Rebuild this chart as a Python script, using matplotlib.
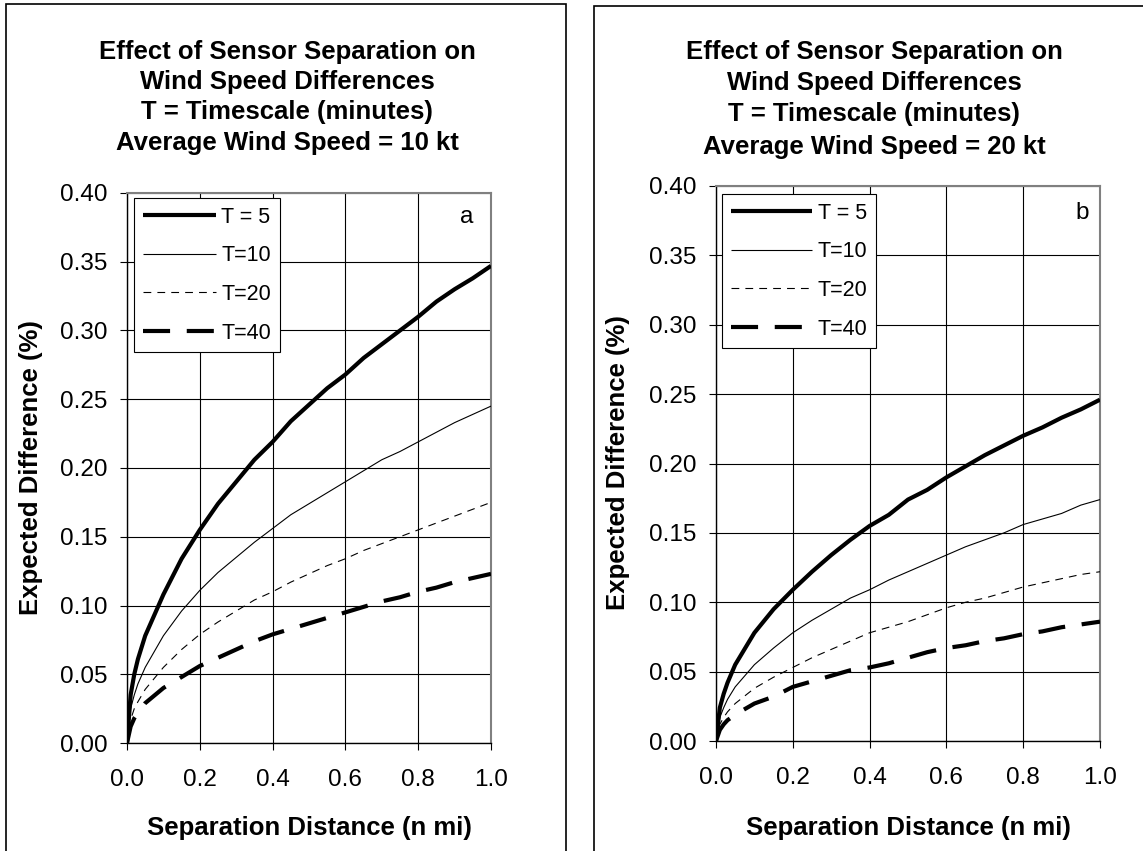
import matplotlib
matplotlib.use("Agg")
import matplotlib.pyplot as plt
from matplotlib.patches import Rectangle

plt.rcParams['font.family'] = ['Liberation Sans', 'DejaVu Sans']

W, H = 1143, 851

# separation distance (n mi)
dist = [0, 0.01, 0.02, 0.03, 0.05, 0.1, 0.15, 0.2, 0.25, 0.3, 0.35, 0.4,
        0.45, 0.5, 0.55, 0.6, 0.65, 0.7, 0.75, 0.8, 0.85, 0.9, 0.95, 1.0]

labels = ["T = 5", "T=10", "T=20", "T=40"]

# panel a: 10 kt
a_t5 = [0, 0.035, 0.05, 0.061, 0.078, 0.108, 0.134, 0.155, 0.174, 0.19, 0.206, 0.219,
        0.234, 0.246, 0.258, 0.268, 0.28, 0.29, 0.30, 0.31, 0.321, 0.33, 0.338, 0.347]
a_t10 = [0, 0.025, 0.035, 0.043, 0.055, 0.078, 0.096, 0.111, 0.124, 0.135, 0.146, 0.156,
         0.166, 0.174, 0.182, 0.19, 0.198, 0.206, 0.212, 0.219, 0.226, 0.233, 0.239, 0.245]
a_t20 = [0, 0.017, 0.025, 0.03, 0.039, 0.055, 0.068, 0.079, 0.088, 0.096, 0.104, 0.11,
         0.117, 0.123, 0.129, 0.134, 0.14, 0.145, 0.15, 0.155, 0.16, 0.165, 0.17, 0.175]
a_t40 = [0, 0.012, 0.018, 0.022, 0.029, 0.040, 0.048, 0.056, 0.062, 0.068, 0.074, 0.079,
         0.083, 0.087, 0.091, 0.095, 0.099, 0.103, 0.106, 0.11, 0.113, 0.117, 0.12, 0.123]

# panel b: 20 kt
b_t5 = [0, 0.024, 0.034, 0.042, 0.055, 0.078, 0.095, 0.109, 0.122, 0.134, 0.145, 0.155,
        0.163, 0.174, 0.181, 0.19, 0.198, 0.206, 0.213, 0.22, 0.226, 0.233, 0.239, 0.246]
b_t10 = [0, 0.017, 0.024, 0.03, 0.039, 0.055, 0.067, 0.078, 0.087, 0.095, 0.103, 0.109,
         0.116, 0.122, 0.128, 0.134, 0.14, 0.145, 0.15, 0.156, 0.16, 0.164, 0.17, 0.174]
b_t20 = [0, 0.012, 0.017, 0.021, 0.027, 0.038, 0.046, 0.053, 0.06, 0.066, 0.072, 0.078,
         0.082, 0.086, 0.091, 0.096, 0.1, 0.103, 0.107, 0.111, 0.114, 0.117, 0.12, 0.122]
b_t40 = [0, 0.008, 0.012, 0.015, 0.019, 0.027, 0.032, 0.039, 0.043, 0.047, 0.051, 0.053,
         0.056, 0.06, 0.064, 0.067, 0.069, 0.072, 0.074, 0.077, 0.079, 0.082, 0.084, 0.086]

xticks = [0.0, 0.2, 0.4, 0.6, 0.8, 1.0]
yticks = [0.0, 0.05, 0.10, 0.15, 0.20, 0.25, 0.30, 0.35, 0.40]

title_a = ["Effect of Sensor Separation on", "Wind Speed Differences",
           "T = Timescale (minutes)", "Average Wind Speed = 10 kt"]
title_b = ["Effect of Sensor Separation on", "Wind Speed Differences",
           "T = Timescale (minutes)", "Average Wind Speed = 20 kt"]

styles = [dict(lw=3.0, ls='-'),
          dict(lw=0.8, ls='-'),
          dict(lw=0.8, ls=(0, (7, 5.5))),
          dict(lw=3.0, ls=(0, (6.5, 4)))]


def fig_ax(left, top, right, bottom):
    return fig.add_axes([left / W, 1 - bottom / H, (right - left) / W, (bottom - top) / H])


def panel(ax, series, handlelen, leg_xy):
    for ys, lab, st in zip(series, labels, styles):
        ax.plot(dist, ys, color='black', label=lab, solid_capstyle='butt',
                dash_capstyle='butt', zorder=3, **st)
    ax.set_xlim(0, 1.0)
    ax.set_ylim(0, 0.40)
    ax.set_xticks(xticks)
    ax.set_yticks(yticks)
    ax.set_xticklabels(["%.1f" % v for v in xticks])
    ax.set_yticklabels(["%.2f" % v for v in yticks])
    ax.grid(True, color='black', lw=0.8, zorder=1)
    ax.tick_params(direction='out', length=5, width=0.8, labelsize=17.5, color='black')
    ax.tick_params(axis='x', pad=14)
    ax.tick_params(axis='y', pad=9)
    for s in ['top', 'right']:
        ax.spines[s].set_color('#808080')
        ax.spines[s].set_linewidth(1.5)
    for s in ['left', 'bottom']:
        ax.spines[s].set_color('black')
        ax.spines[s].set_linewidth(1.0)
    leg = ax.legend(loc='upper left', bbox_to_anchor=(leg_xy[0] / W, 1 - leg_xy[1] / H),
                    bbox_transform=fig.transFigure, fontsize=15.5, frameon=True,
                    fancybox=False, framealpha=1, edgecolor='black',
                    handlelength=handlelen, handletextpad=0.25, labelspacing=0.82,
                    borderpad=0.4, borderaxespad=0)
    leg.get_frame().set_linewidth(0.8)
    leg.set_zorder(5)


fig = plt.figure(figsize=(W / 100, H / 100), dpi=100)

# panel frames
fig.patches.append(Rectangle((6 / W, -0.05), 560 / W, 1.05 - 4 / H, fill=False,
                             lw=1.2, edgecolor='black', transform=fig.transFigure))
fig.patches.append(Rectangle((594 / W, -0.05), 0.6, 1.05 - 6 / H, fill=False,
                             lw=1.2, edgecolor='black', transform=fig.transFigure))

ax1 = fig_ax(127, 193, 491, 743)
ax2 = fig_ax(716, 186, 1100, 741)

panel(ax1, [a_t5, a_t10, a_t20, a_t40], 3.4, (134, 198))
panel(ax2, [b_t5, b_t10, b_t20, b_t40], 3.8, (722, 194))

for txt, ys, xc in [(title_a, [52, 82, 112, 143], 287), (title_b, [52, 83, 114, 147], 874)]:
    for line, yc in zip(txt, ys):
        fig.text(xc / W, 1 - yc / H, line, ha='center', va='center',
                 fontsize=18.5, fontweight='bold')

fig.text(467 / W, 1 - 217 / H, "a", ha='center', va='center', fontsize=17.5)
fig.text(1082 / W, 1 - 213 / H, "b", ha='center', va='center', fontsize=17.5)

fig.text(309 / W, 1 - 828 / H, "Separation Distance (n mi)", ha='center', va='center',
         fontsize=18.5, fontweight='bold')
fig.text(908 / W, 1 - 828 / H, "Separation Distance (n mi)", ha='center', va='center',
         fontsize=18.5, fontweight='bold')
fig.text(31 / W, 1 - 468 / H, "Expected Difference (%)", ha='center', va='center',
         rotation=90, fontsize=18.5, fontweight='bold')
fig.text(618 / W, 1 - 463 / H, "Expected Difference (%)", ha='center', va='center',
         rotation=90, fontsize=18.5, fontweight='bold')

fig.savefig("out.png", dpi=100)
